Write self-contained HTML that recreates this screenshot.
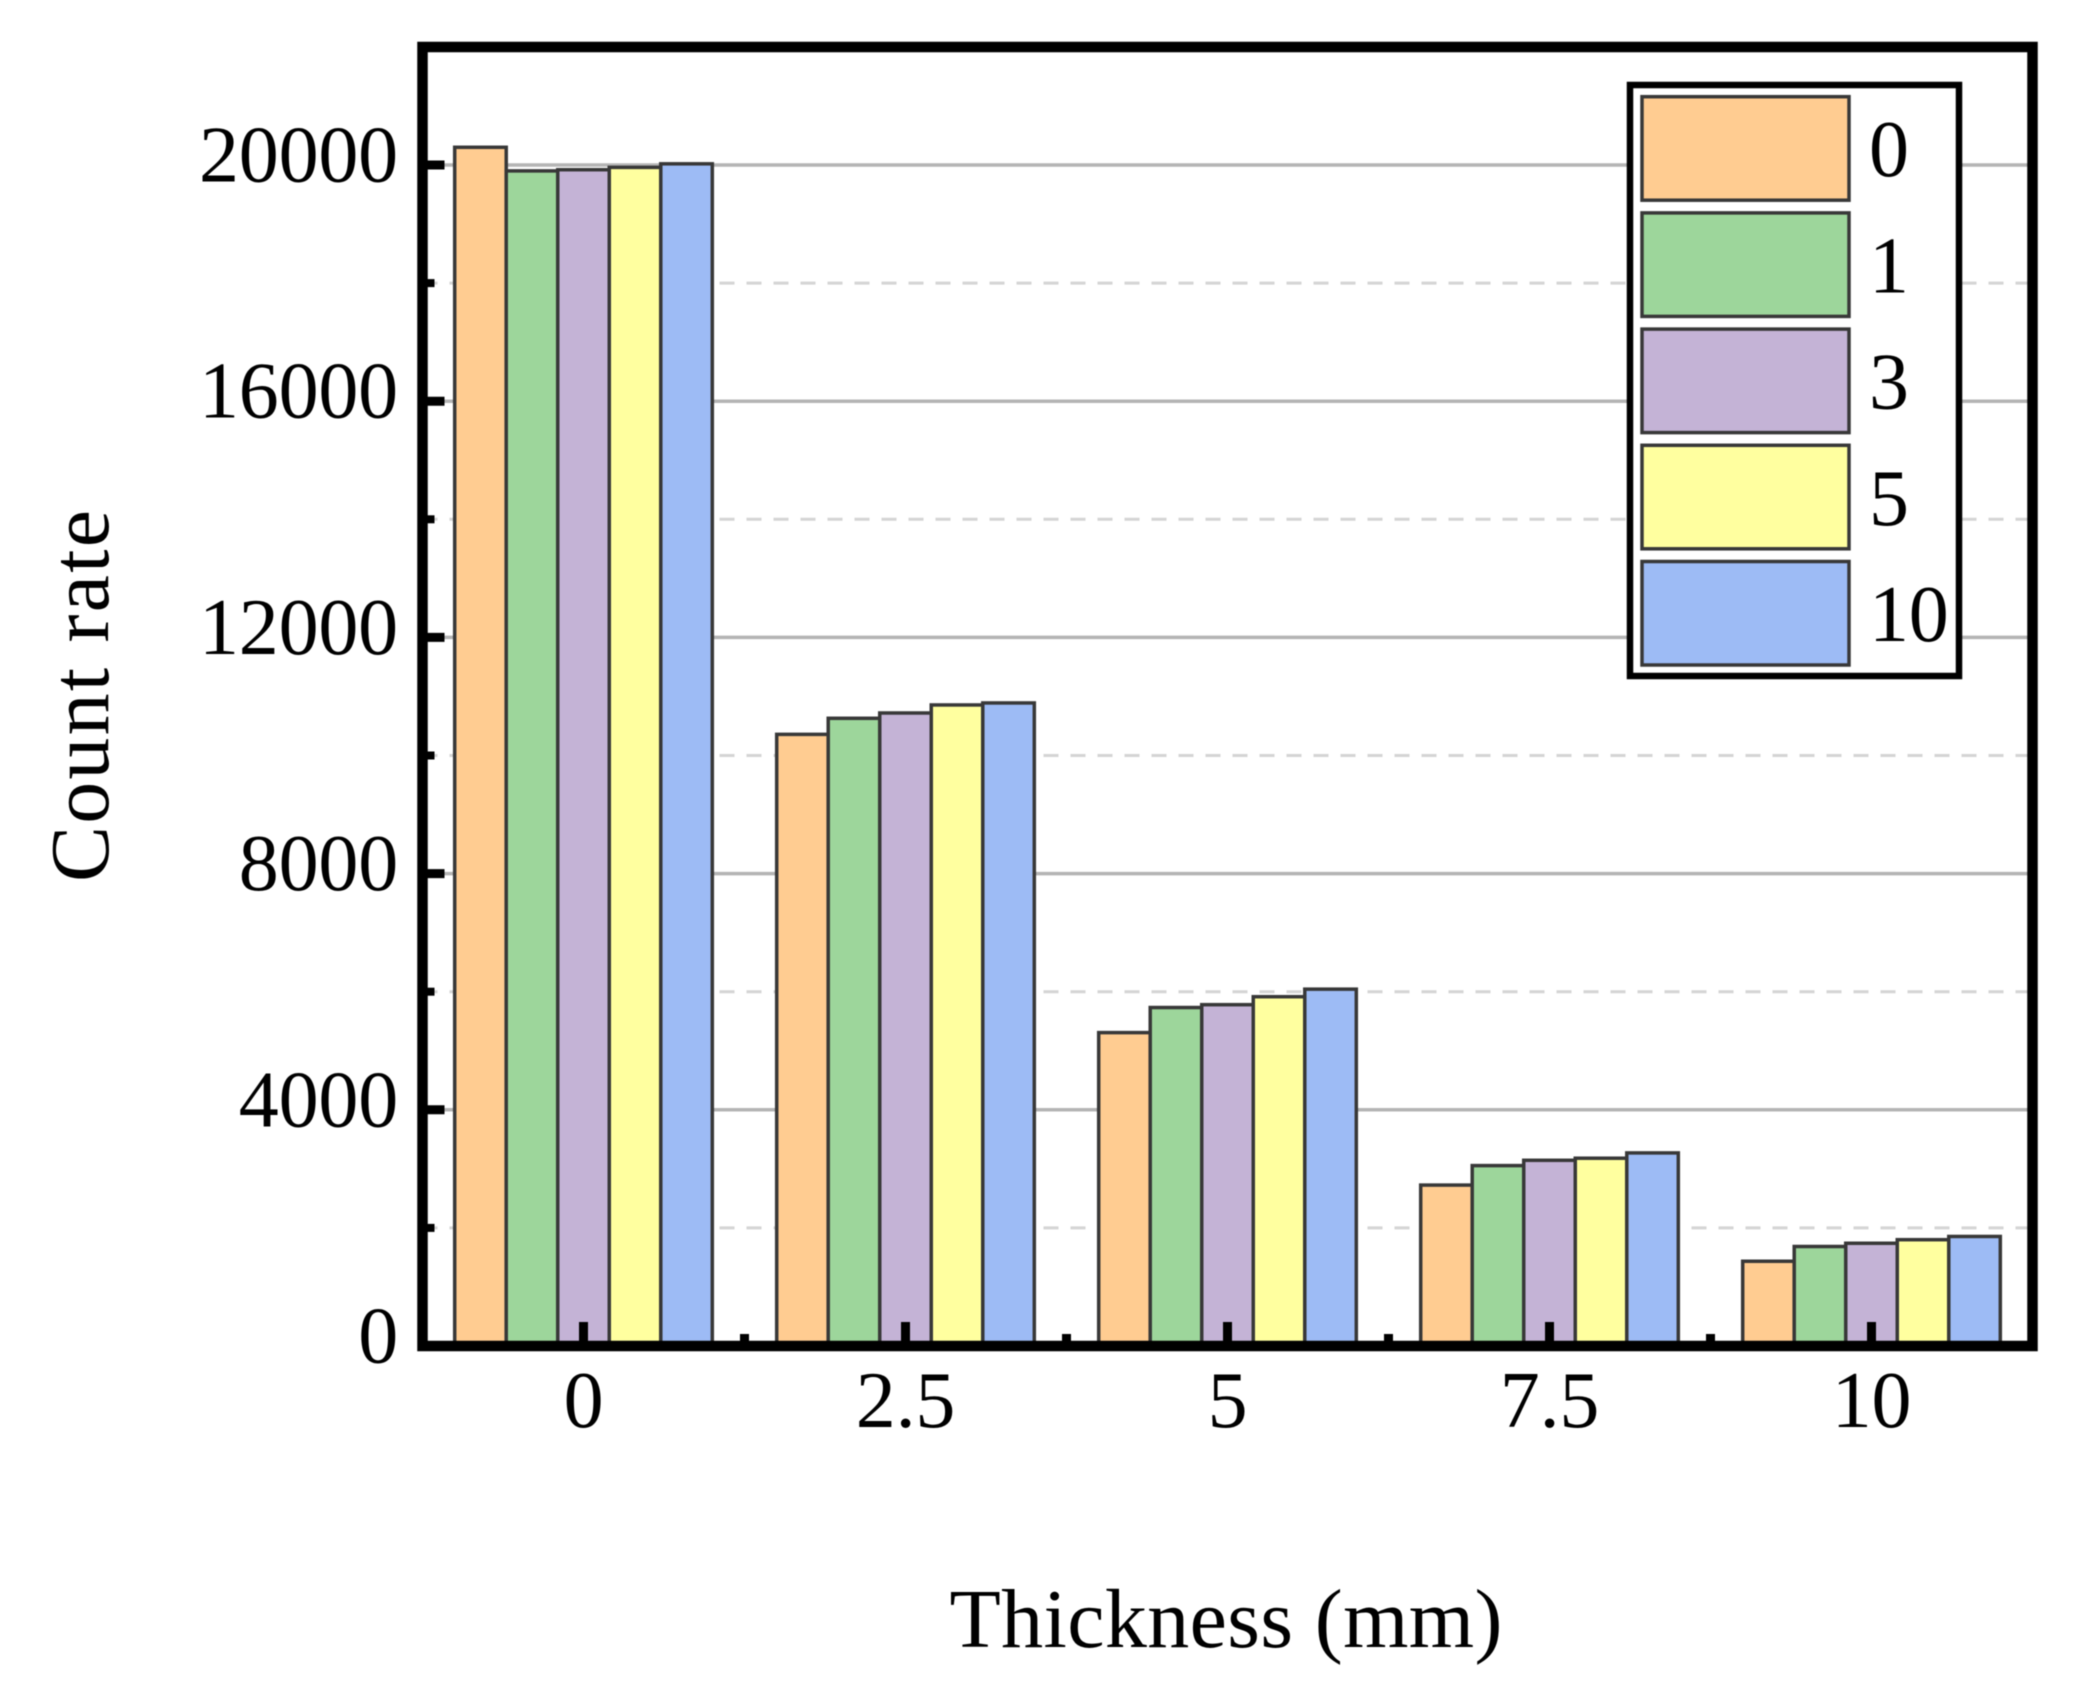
<!DOCTYPE html>
<html lang="en">
<head>
<meta charset="utf-8">
<title>Count rate vs thickness</title>
<style>
html,body{margin:0;padding:0;background:#fff;}
body{width:2099px;height:1694px;overflow:hidden;}
svg{display:block;filter:blur(0.6px);}
text{font-family:"Liberation Serif",serif;fill:#000;}
</style>
</head>
<body>
<svg id="chart" xmlns="http://www.w3.org/2000/svg" width="2099" height="1694" viewBox="0 0 2099 1694">
<rect x="0" y="0" width="2099" height="1694" fill="#fff"/>
<g id="grid"></g>
<g id="bars"></g>
<g id="ticks"></g>
<rect x="422.5" y="47" width="1610" height="1299" fill="none" stroke="#000" stroke-width="10.5"/>
<g id="ylabels"></g>
<g id="xlabels"></g>
<text x="1226" y="1647" font-size="84" text-anchor="middle" textLength="553" lengthAdjust="spacing">Thickness (mm)</text>
<text transform="translate(108,696) rotate(-90)" font-size="84" text-anchor="middle" textLength="372" lengthAdjust="spacing">Count rate</text>
<g id="legend"></g>
</svg>
<script>
const categories = ['0', '2.5', '5', '7.5', '10'];
const seriesNames = ['0', '1', '3', '5', '10'];
const series0 = [20300, 10358, 5307, 2725, 1435];
const series1 = [19900, 10630, 5732, 3055, 1685];
const series3 = [19920, 10720, 5780, 3145, 1740];
const series5 = [19960, 10856, 5915, 3180, 1800];
const series10 = [20020, 10890, 6043, 3270, 1855];
const yMajorTicks = [0, 4000, 8000, 12000, 16000, 20000];
const yMinorTicks = [2000, 6000, 10000, 14000, 18000];
const seriesValues = [series0, series1, series3, series5, series10];
const seriesColors = ['#FFCC91', '#9DD69B', '#C4B3D6', '#FFFF9F', '#9DBBF5'];

const NS = 'http://www.w3.org/2000/svg';
const plotLeft = 422.5, plotRight = 2032.5, frameLeft = 422.5, frameRight = 2032.5, frameBottom = 1346;
const xStep = (plotRight - plotLeft) / categories.length;
function xScale(i) { return plotLeft + xStep * (i + 0.5); }
function yScale(v) { return 1346 - v * 0.05905; }
function make(tag, parentId, props) {
  const el = document.createElementNS(NS, tag);
  for (const k in props) el.setAttribute(k, props[k]);
  document.getElementById(parentId).appendChild(el);
  return el;
}

yMinorTicks.forEach(function (v) {
  const line = make('line', 'grid', {x1: frameLeft, x2: frameRight, y1: yScale(v), y2: yScale(v), stroke: '#d4d4d4', 'stroke-width': 3, 'stroke-dasharray': '15 12'});
  
  
  const tick = make('line', 'ticks', {x1: frameLeft, x2: frameLeft + 12, y1: yScale(v), y2: yScale(v), stroke: '#000', 'stroke-width': 8});
  
  
});

yMajorTicks.forEach(function (v) {
  if (v > 0) {
    const line = make('line', 'grid', {x1: frameLeft, x2: frameRight, y1: yScale(v), y2: yScale(v), stroke: '#b4b4b4', 'stroke-width': 3.5});
    
    
    const tick = make('line', 'ticks', {x1: frameLeft, x2: frameLeft + 22, y1: yScale(v), y2: yScale(v), stroke: '#000', 'stroke-width': 9});
    
    
  }
  const label = make('text', 'ylabels', {x: 398, y: yScale(v) + 16.5, 'font-size': 80, 'text-anchor': 'end', 'letter-spacing': '-0.2'});
  
  
  label.textContent = String(v);
});

const barWidth = xStep * 0.8 / seriesValues.length;
seriesValues.forEach(function (values, s) {
  values.forEach(function (v, i) {
    const left = xScale(i) - xStep * 0.4 + s * barWidth;
    const bar = make('rect', 'bars', {x: left, y: yScale(v), width: barWidth, height: frameBottom - yScale(v), fill: seriesColors[s], stroke: '#383838', 'stroke-width': 3.5});
    
    
  });
});

categories.forEach(function (c, i) {
  const tick = make('line', 'ticks', {x1: xScale(i), x2: xScale(i), y1: frameBottom, y2: frameBottom - 24, stroke: '#000', 'stroke-width': 9});
  
  
  if (i < categories.length - 1) {
    const minor = make('line', 'ticks', {x1: xScale(i + 0.5), x2: xScale(i + 0.5), y1: frameBottom, y2: frameBottom - 12, stroke: '#000', 'stroke-width': 9});
    
    
  }
  const label = make('text', 'xlabels', {x: xScale(i), y: 1427, 'font-size': 80, 'text-anchor': 'middle', 'letter-spacing': '-0.2'});
  
  
  label.textContent = c;
});

const legendBox = make('rect', 'legend', {x: 1630, y: 85, width: 329, height: 591, fill: '#fff', stroke: '#000', 'stroke-width': 6.5});


seriesNames.forEach(function (name, s) {
  const top = 96.7 + s * 116.2;
  const swatch = make('rect', 'legend', {x: 1642, y: top, width: 207, height: 103.5, fill: seriesColors[s], stroke: '#383838', 'stroke-width': 3.5});
  
  
  const label = make('text', 'legend', {x: 1869, y: top + 79.5, 'font-size': 80, 'letter-spacing': '-0.2'});
  
  
  label.textContent = name;
});
</script>
</body>
</html>
